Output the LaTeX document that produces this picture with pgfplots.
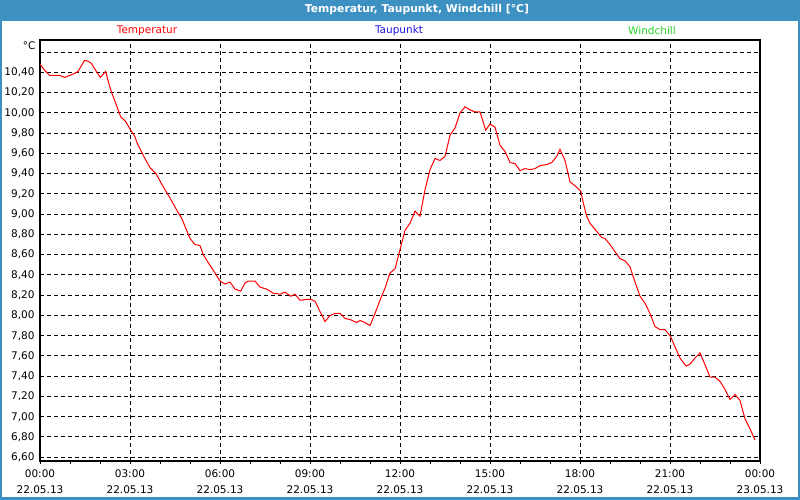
\documentclass[border=0pt]{standalone}
\usepackage{pgfplots}
\pgfplotsset{compat=1.18}
\usepackage{fontspec}
\setmainfont{DejaVu Sans}
\definecolor{framecol}{RGB}{61,145,194}
\definecolor{tempred}{RGB}{255,0,0}
\definecolor{taublue}{RGB}{30,20,230}
\definecolor{windgreen}{RGB}{40,210,40}

\pgfplotstableread{
h t
0.000 10.48
0.157 10.42
0.323 10.37
0.657 10.37
0.823 10.35
0.990 10.37
1.157 10.39
1.267 10.41
1.490 10.52
1.600 10.51
1.710 10.49
1.877 10.41
2.010 10.35
2.100 10.38
2.190 10.41
2.267 10.32
2.377 10.21
2.543 10.08
2.690 9.96
2.843 9.92
3.023 9.83
3.157 9.77
3.243 9.70
3.443 9.58
3.667 9.46
3.867 9.40
4.110 9.27
4.333 9.16
4.557 9.04
4.723 8.96
4.833 8.88
5.000 8.76
5.167 8.70
5.333 8.69
5.443 8.60
5.610 8.52
5.833 8.42
6.000 8.34
6.167 8.31
6.333 8.33
6.500 8.26
6.690 8.24
6.833 8.32
6.943 8.34
7.167 8.34
7.333 8.28
7.557 8.26
7.777 8.22
8.000 8.21
8.167 8.23
8.357 8.19
8.500 8.21
8.667 8.15
8.910 8.16
9.023 8.16
9.167 8.14
9.333 8.04
9.500 7.94
9.667 8.00
9.833 8.02
10.000 8.02
10.167 7.97
10.333 7.96
10.557 7.93
10.667 7.95
10.833 7.93
11.000 7.90
11.167 8.02
11.333 8.15
11.500 8.27
11.667 8.42
11.833 8.46
12.000 8.65
12.167 8.84
12.333 8.91
12.500 9.03
12.667 8.98
12.833 9.24
13.000 9.44
13.167 9.55
13.333 9.53
13.500 9.57
13.667 9.78
13.833 9.85
14.000 10.00
14.167 10.06
14.333 10.03
14.500 10.01
14.667 10.01
14.857 9.83
15.000 9.89
15.167 9.86
15.333 9.68
15.500 9.62
15.667 9.51
15.833 9.50
16.000 9.43
16.167 9.45
16.333 9.44
16.500 9.45
16.667 9.48
16.890 9.49
17.057 9.51
17.223 9.57
17.333 9.64
17.500 9.53
17.667 9.32
17.833 9.28
18.023 9.23
18.110 9.11
18.223 8.98
18.333 8.91
18.557 8.83
18.723 8.77
18.833 8.76
19.000 8.70
19.167 8.63
19.333 8.56
19.500 8.54
19.667 8.48
19.833 8.33
20.000 8.19
20.167 8.12
20.333 8.02
20.500 7.89
20.667 7.86
20.833 7.86
21.023 7.79
21.167 7.69
21.333 7.58
21.533 7.50
21.667 7.52
21.833 7.58
22.000 7.63
22.200 7.49
22.333 7.39
22.500 7.39
22.667 7.35
22.833 7.27
23.000 7.17
23.167 7.22
23.333 7.16
23.500 6.98
23.667 6.88
23.833 6.77
}\temptable

\begin{document}
\begin{tikzpicture}[x=1pt,y=1pt]
\path[use as bounding box] (0,0) rectangle (800,500);
\fill[framecol] (0,0) rectangle (800,500);
\fill[white] (2,3) rectangle (798,479);
\node[text=white,font=\fontsize{10.8}{13}\selectfont\bfseries] at (417,490) {Temperatur, Taupunkt, Windchill [°C]};
\begin{scope}[font=\fontsize{10.5}{16}\selectfont]
\node[text=tempred] at (147,469) {Temperatur};
\node[text=taublue] at (399,469) {Taupunkt};
\node[text=windgreen] at (652,469) {Windchill};
\node[anchor=east] at (39,454) {°C};
\end{scope}
\begin{axis}[
    at={(40pt,39pt)}, anchor=south west,
    scale only axis, width=720pt, height=421pt,
    xmin=0, xmax=24, ymin=6.563, ymax=10.72,
    axis line style={line width=1.6pt},
    font=\fontsize{10.5}{16}\selectfont,
    xtick={0,3,...,24},
    xticklabels={{00:00\\22.05.13},{03:00\\22.05.13},{06:00\\22.05.13},{09:00\\22.05.13},{12:00\\22.05.13},{15:00\\22.05.13},{18:00\\22.05.13},{21:00\\22.05.13},{00:00\\23.05.13}},
    xticklabel style={align=center, yshift=-2pt},
    minor x tick num=2,
    xtick pos=bottom, tick align=outside,
    major tick length=3pt, minor tick length=3pt,
    every tick/.style={black, line width=1pt},
    ytick={6.6,6.8,...,10.61},
    yticklabels={{6,60},{6,80},{7,00},{7,20},{7,40},{7,60},{7,80},{8,00},{8,20},{8,40},{8,60},{8,80},{9,00},{9,20},{9,40},{9,60},{9,80},{10,00},{10,20},{10,40},{}},
    ytick style={draw=none},
    yticklabel style={xshift=1pt},
    grid=major,
    major grid style={black, line width=1pt, dash pattern=on 4pt off 3pt},
]
\addplot[tempred, line width=1pt, mark=none] table[x=h, y=t] {\temptable};
\end{axis}
\end{tikzpicture}
\end{document}
